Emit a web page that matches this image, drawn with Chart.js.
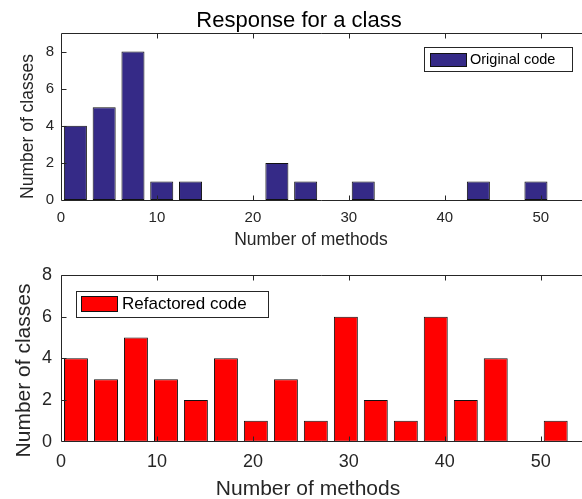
<!DOCTYPE html>
<html>
<head>
<meta charset="utf-8">
<script src="https://cdn.jsdelivr.net/npm/chart.js@4.4.1/dist/chart.umd.min.js"></script>
<style>
  html, body { margin: 0; padding: 0; background: #fff; }
  #figure { position: relative; width: 582px; height: 499px; overflow: hidden; }
  #figure canvas { position: absolute; left: 0; }
</style>
</head>
<body>
<div id="figure">
  <canvas id="originalChart" width="582" height="250" style="top:0"></canvas>
  <canvas id="refactoredChart" width="582" height="249" style="top:250px"></canvas>
</div>
<script>
// Histogram bin centres (number of methods) and counts (number of classes)
const originalCenters = [1.5, 4.5, 7.5, 10.5, 13.5, 16.5, 19.5, 22.5, 25.5, 28.5, 31.5, 34.5, 37.5, 40.5, 43.5, 46.5, 49.5];
const originalCounts = [4, 5, 8, 1, 1, 0, 0, 2, 1, 0, 1, 0, 0, 0, 1, 0, 1];

const refactoredCenters = [1.56, 4.69, 7.81, 10.94, 14.06, 17.19, 20.31, 23.44, 26.56, 29.69, 32.81, 35.94, 39.06, 42.19, 45.31, 48.44, 51.56];
const refactoredCounts = [4, 3, 5, 3, 2, 4, 1, 3, 1, 6, 2, 1, 6, 2, 4, 0, 1];

const xTickStep = 10;
const yTickStep = 2;

const axisColor = '#262626';
const fontFamily = '"Liberation Sans", Arial, Helvetica, sans-serif';

Chart.defaults.font.family = fontFamily;
Chart.defaults.color = axisColor;

// Draws the MATLAB-like box, inward ticks, legend and text labels
const axesFrame = {
  id: 'axesFrame',
  afterDatasetsDraw(chart, args, opts) {
    const { ctx, chartArea: a, scales: { x, y } } = chart;
    const L = Math.floor(a.left) + 0.5;
    const T = Math.floor(a.top) + 0.5;
    const B = Math.floor(a.bottom) + 0.5;
    const R = a.right;
    const tl = opts.tickLength;
    ctx.save();
    ctx.strokeStyle = axisColor;
    ctx.lineWidth = 1;
    ctx.beginPath();
    ctx.moveTo(R, T); ctx.lineTo(L, T); ctx.lineTo(L, B); ctx.lineTo(R, B);
    x.ticks.forEach(t => {
      const px = Math.round(x.getPixelForValue(t.value)) + 0.5;
      if (px <= L + 1) return;
      ctx.moveTo(px, B); ctx.lineTo(px, B - tl);
      ctx.moveTo(px, T); ctx.lineTo(px, T + tl);
    });
    y.ticks.forEach(t => {
      const py = Math.round(y.getPixelForValue(t.value)) + 0.5;
      if (py >= B - 1) return;
      ctx.moveTo(L, py); ctx.lineTo(L + tl, py);
    });
    ctx.stroke();
    ctx.restore();
  },
  afterDraw(chart, args, opts) {
    const { ctx } = chart;
    const ds = chart.data.datasets[0];
    ctx.save();

    // legend
    const lg = opts.legend;
    ctx.fillStyle = '#fff';
    ctx.fillRect(lg.box[0], lg.box[1], lg.box[2], lg.box[3]);
    ctx.strokeStyle = axisColor;
    ctx.lineWidth = 1;
    ctx.strokeRect(lg.box[0] + 0.5, lg.box[1] + 0.5, lg.box[2], lg.box[3]);
    ctx.fillStyle = ds.backgroundColor;
    ctx.fillRect(lg.swatch[0], lg.swatch[1], lg.swatch[2], lg.swatch[3]);
    ctx.strokeStyle = ds.borderColor;
    ctx.strokeRect(lg.swatch[0] + 0.5, lg.swatch[1] + 0.5, lg.swatch[2] - 1, lg.swatch[3] - 1);
    ctx.fillStyle = '#000';
    ctx.font = lg.size + 'px ' + fontFamily;
    ctx.textBaseline = 'middle';
    ctx.textAlign = 'left';
    ctx.fillText(ds.label, lg.textX, lg.textY);

    // titles
    ctx.textBaseline = 'alphabetic';
    ctx.textAlign = 'center';
    (opts.texts || []).forEach(t => {
      ctx.save();
      ctx.font = t.size + 'px ' + fontFamily;
      ctx.fillStyle = t.color || axisColor;
      ctx.translate(t.x, t.y);
      if (t.rotate) ctx.rotate(-Math.PI / 2);
      ctx.fillText(t.text, 0, 0);
      ctx.restore();
    });
    ctx.restore();
  }
};

function histogramChart(canvasId, centers, counts, label, color, cfg) {
  return new Chart(document.getElementById(canvasId), {
    type: 'bar',
    data: {
      datasets: [{
        label: label,
        data: centers.map((c, i) => ({ x: c, y: counts[i] })),
        backgroundColor: color,
        borderColor: '#111111',
        borderWidth: 1,
        borderSkipped: false,
        categoryPercentage: 1.0,
        barPercentage: 0.8
      }]
    },
    options: {
      responsive: false,
      animation: false,
      layout: { padding: { top: cfg.padTop, left: 0, right: 0, bottom: 0 } },
      scales: {
        x: {
          type: 'linear',
          min: 0,
          max: cfg.xMax,
          offset: false,
          grid: { display: false, drawTicks: false },
          border: { display: false },
          ticks: {
            stepSize: xTickStep,
            includeBounds: false,
            maxRotation: 0,
            padding: cfg.xTickPad,
            font: { size: cfg.tickSize }
          },
          afterFit(scale) { scale.height = cfg.xHeight; }
        },
        y: {
          min: 0,
          max: cfg.yMax,
          grid: { display: false, drawTicks: false },
          border: { display: false },
          ticks: {
            stepSize: yTickStep,
            includeBounds: false,
            padding: cfg.yTickPad,
            font: { size: cfg.tickSize }
          },
          afterFit(scale) { scale.width = 61; }
        }
      },
      plugins: {
        legend: { display: false },
        tooltip: { enabled: false },
        axesFrame: { tickLength: 5, legend: cfg.legend, texts: cfg.texts }
      }
    },
    plugins: [axesFrame]
  });
}

histogramChart('originalChart', originalCenters, originalCounts, 'Original code', '#352a87', {
  padTop: 33, xHeight: 50, xMax: 54.3, yMax: 9,
  tickSize: 15, xTickPad: 9, yTickPad: 7,
  legend: { box: [424, 47, 148, 24], swatch: [430, 53, 37, 14], textX: 470, textY: 60, size: 14.5 },
  texts: [
    { text: 'Response for a class', x: 299, y: 27, size: 22, color: '#000' },
    { text: 'Number of methods', x: 311, y: 245, size: 17.5 },
    { text: 'Number of classes', x: 33, y: 126.5, size: 17.5, rotate: true }
  ]
});

histogramChart('refactoredChart', refactoredCenters, refactoredCounts, 'Refactored code', '#ff0000', {
  padTop: 25, xHeight: 57.3, xMax: 54.3, yMax: 8,
  tickSize: 18, xTickPad: 10, yTickPad: 9,
  legend: { box: [76, 41, 192, 26], swatch: [81, 46, 37, 16], textX: 122, textY: 54, size: 17 },
  texts: [
    { text: 'Number of methods', x: 308, y: 245, size: 21 },
    { text: 'Number of classes', x: 30, y: 120.5, size: 21, rotate: true }
  ]
});
</script>
</body>
</html>
